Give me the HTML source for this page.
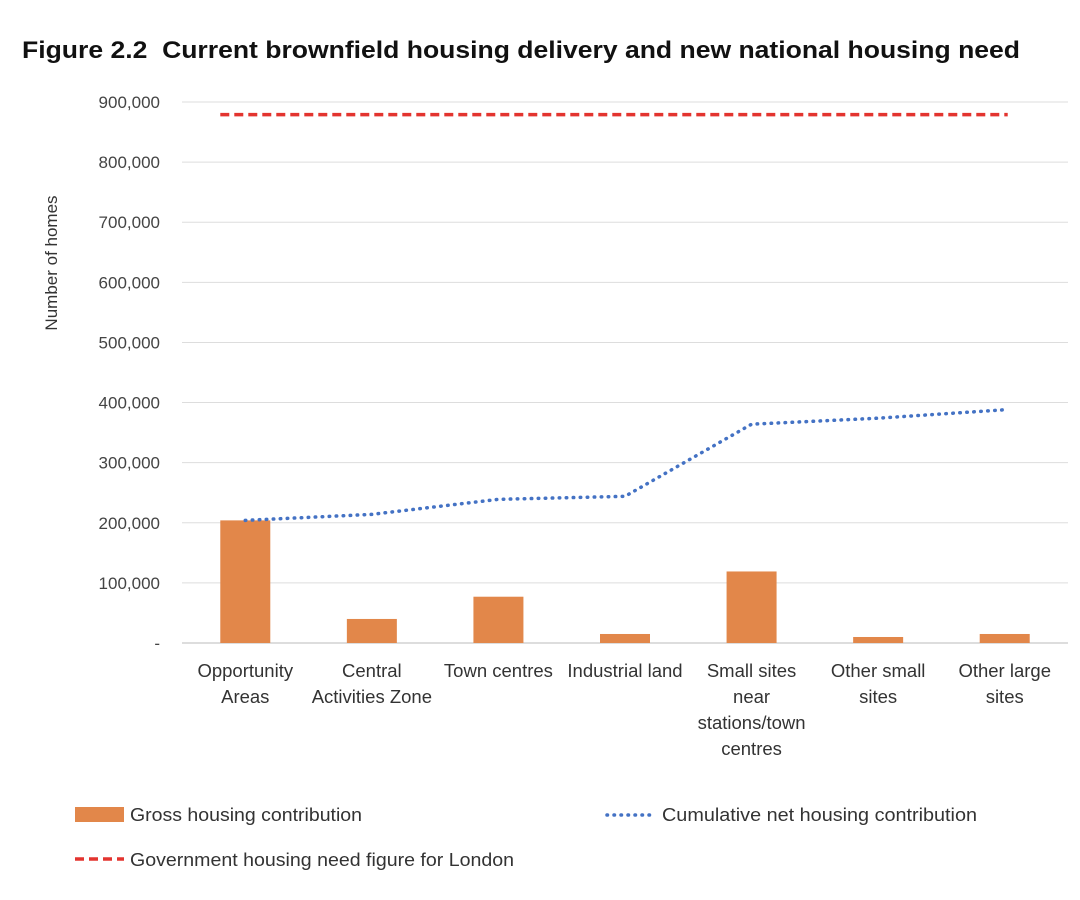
<!DOCTYPE html>
<html><head><meta charset="utf-8"><style>
body{margin:0;background:#fff;width:1080px;height:895px;overflow:hidden;font-family:"Liberation Sans",sans-serif}
</style></head><body>
<svg width="1080" height="895">
<text x="22" y="58" font-size="24" font-weight="bold" fill="#111" textLength="998" lengthAdjust="spacingAndGlyphs" xml:space="preserve">Figure 2.2  Current brownfield housing delivery and new national housing need</text>
<g id="grid"></g><g id="bars"></g><g id="lines"></g><g id="labels"></g>
<text transform="translate(57,263) rotate(-90)" text-anchor="middle" font-size="17" fill="#333">Number of homes</text>
<g>
<rect x="75" y="807" width="49" height="15" fill="#E2874A"/>
<text x="130" y="821" font-size="18.5" fill="#333" textLength="232" lengthAdjust="spacingAndGlyphs">Gross housing contribution</text>
<line x1="607" y1="815" x2="655" y2="815" stroke="#4472C4" stroke-width="3.5" stroke-dasharray="0.5,6.5" stroke-linecap="round"/>
<text x="662" y="821" font-size="18.5" fill="#333" textLength="315" lengthAdjust="spacingAndGlyphs">Cumulative net housing contribution</text>
<line x1="75" y1="859" x2="124" y2="859" stroke="#E3342F" stroke-width="3.5" stroke-dasharray="9,5"/>
<text x="130" y="866" font-size="18.5" fill="#333" textLength="384" lengthAdjust="spacingAndGlyphs">Government housing need figure for London</text>
</g>
</svg>
<script>
const categories=[["Opportunity","Areas"],["Central","Activities Zone"],["Town centres"],["Industrial land"],["Small sites","near","stations/town","centres"],["Other small","sites"],["Other large","sites"]];
const gross=[204000,40000,77000,15000,119000,10000,15000];
const cumulative=[204000,214000,239000,244000,364000,374000,388000];
const need=879000;
const yTicks=[0,100000,200000,300000,400000,500000,600000,700000,800000,900000];
const NS="http://www.w3.org/2000/svg";
const x0=182,x1=1068,y0=643,y1=102,yMax=900000;
const band=(x1-x0)/categories.length;
const xC=i=>x0+band*(i+0.5);
const yS=v=>y0-(v/yMax)*(y0-y1);
function mk(tag,attrs,parent){const e=document.createElementNS(NS,tag);for(const k in attrs)e.setAttribute(k,attrs[k]);document.getElementById(parent).appendChild(e);return e;}
yTicks.forEach((t,i)=>{
  const l=mk('line',{x1:x0,x2:x1,y1:yS(t),y2:yS(t),stroke:t===0?'#bbb':'#ddd','stroke-width':1},'grid');
  
  
  const tx=mk('text',{x:160,y:yS(t)+6,'text-anchor':'end','font-size':17,fill:'#444'},'labels');
  tx.textContent=t===0?'-':t.toLocaleString('en-US');
  
  
});
gross.forEach((v,i)=>{
  const r=mk('rect',{x:xC(i)-25,y:yS(v),width:50,height:y0-yS(v),fill:'#E2874A'},'bars');
  
  
});
categories.forEach((c,i)=>{
  const t=mk('text',{x:xC(i),y:677,'text-anchor':'middle','font-size':18.5,fill:'#333'},'labels');
  
  
  c.forEach((s,j)=>{const ts=document.createElementNS(NS,'tspan');ts.setAttribute('x',xC(i));ts.setAttribute('dy',j?26:0);ts.textContent=s;t.appendChild(ts);});
});
const pts=cumulative.map((v,i)=>xC(i)+','+yS(v)).join(' ');
const pl=mk('polyline',{points:pts,fill:'none',stroke:'#4472C4','stroke-width':3.5,'stroke-dasharray':'0.5,6.5','stroke-linecap':'round'},'lines');


const nl=mk('line',{x1:xC(0)-25,x2:xC(categories.length-1)+3,y1:yS(need),y2:yS(need),stroke:'#E3342F','stroke-width':3.5,'stroke-dasharray':'9,5'},'lines');


</script>
</body></html>
